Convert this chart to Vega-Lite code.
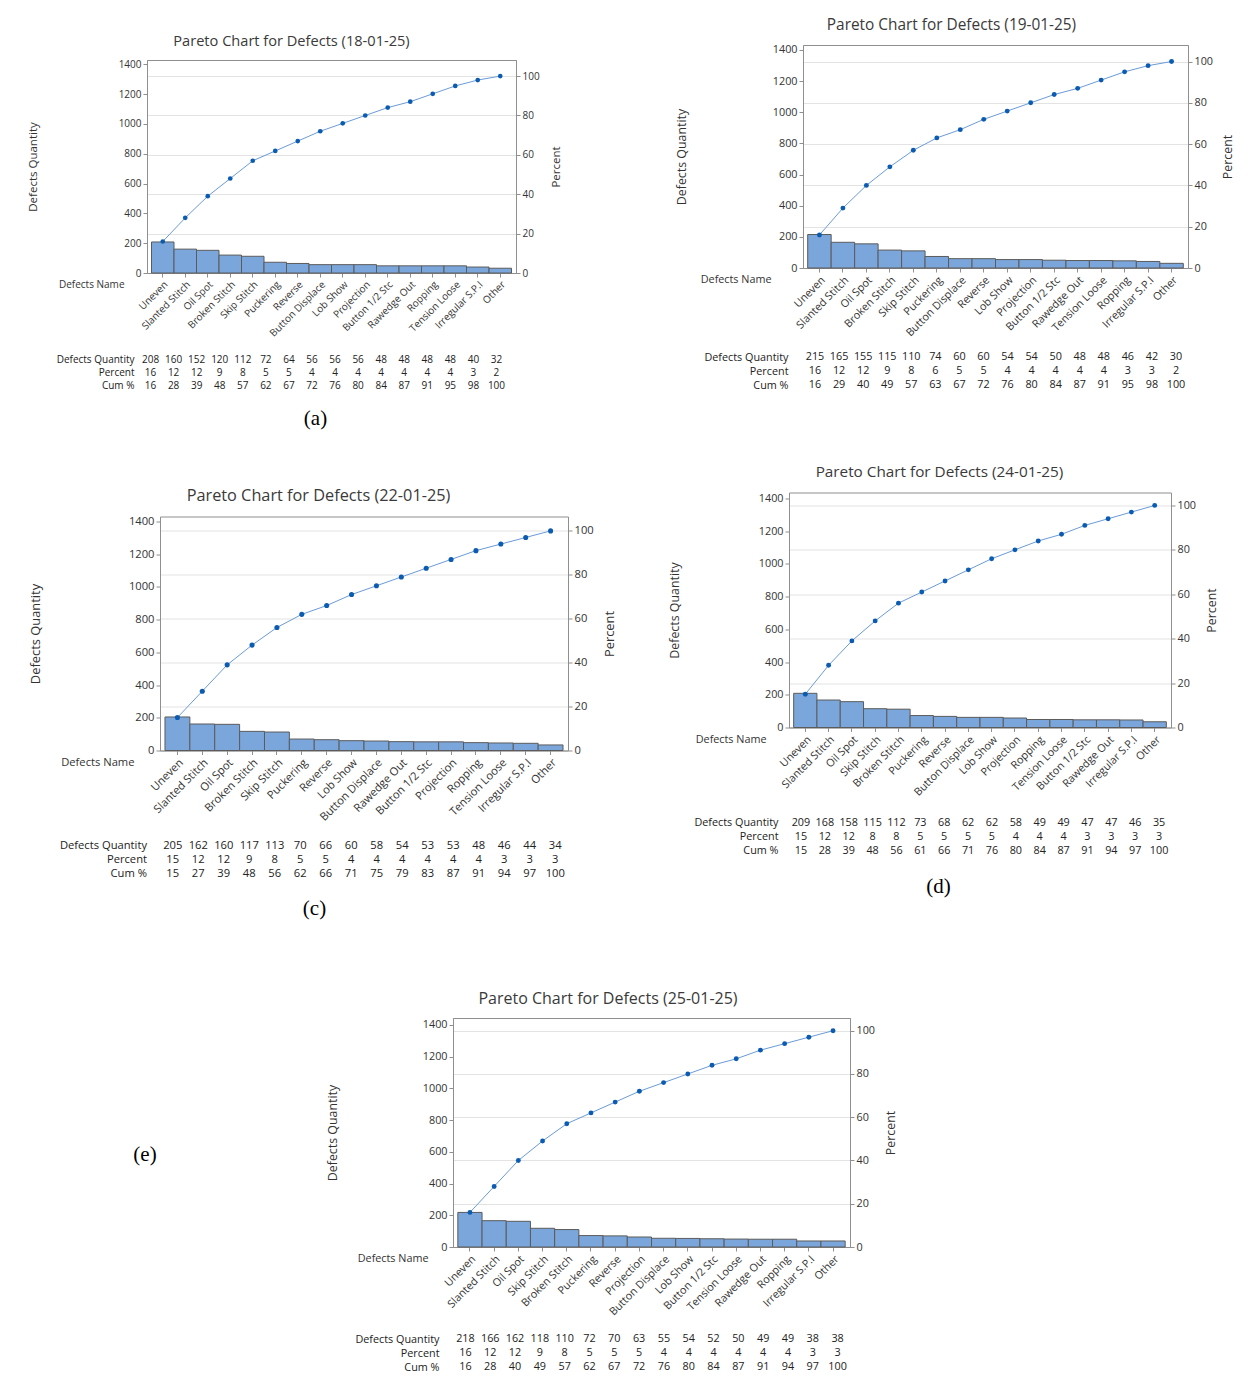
{
"$schema": "https://vega.github.io/schema/vega-lite/v6.json",
"padding": {"left": 0, "top": 0, "right": 5, "bottom": 5},
"background": "white",
"datasets": {
"a": [
{"Defect": "Uneven", "Defects Quantity": 208, "Percent": 16, "Cum %": 16},
{"Defect": "Slanted Stitch", "Defects Quantity": 160, "Percent": 12, "Cum %": 28},
{"Defect": "Oil Spot", "Defects Quantity": 152, "Percent": 12, "Cum %": 39},
{"Defect": "Broken Stitch", "Defects Quantity": 120, "Percent": 9, "Cum %": 48},
{"Defect": "Skip Stitch", "Defects Quantity": 112, "Percent": 8, "Cum %": 57},
{"Defect": "Puckering", "Defects Quantity": 72, "Percent": 5, "Cum %": 62},
{"Defect": "Reverse", "Defects Quantity": 64, "Percent": 5, "Cum %": 67},
{"Defect": "Button Displace", "Defects Quantity": 56, "Percent": 4, "Cum %": 72},
{"Defect": "Lob Show", "Defects Quantity": 56, "Percent": 4, "Cum %": 76},
{"Defect": "Projection", "Defects Quantity": 56, "Percent": 4, "Cum %": 80},
{"Defect": "Button 1/2 Stc", "Defects Quantity": 48, "Percent": 4, "Cum %": 84},
{"Defect": "Rawedge Out", "Defects Quantity": 48, "Percent": 4, "Cum %": 87},
{"Defect": "Ropping", "Defects Quantity": 48, "Percent": 4, "Cum %": 91},
{"Defect": "Tension Loose", "Defects Quantity": 48, "Percent": 4, "Cum %": 95},
{"Defect": "Irregular S.P.I", "Defects Quantity": 40, "Percent": 3, "Cum %": 98},
{"Defect": "Other", "Defects Quantity": 32, "Percent": 2, "Cum %": 100}
],
"b": [
{"Defect": "Uneven", "Defects Quantity": 215, "Percent": 16, "Cum %": 16},
{"Defect": "Slanted Stitch", "Defects Quantity": 165, "Percent": 12, "Cum %": 29},
{"Defect": "Oil Spot", "Defects Quantity": 155, "Percent": 12, "Cum %": 40},
{"Defect": "Broken Stitch", "Defects Quantity": 115, "Percent": 9, "Cum %": 49},
{"Defect": "Skip Stitch", "Defects Quantity": 110, "Percent": 8, "Cum %": 57},
{"Defect": "Puckering", "Defects Quantity": 74, "Percent": 6, "Cum %": 63},
{"Defect": "Button Displace", "Defects Quantity": 60, "Percent": 5, "Cum %": 67},
{"Defect": "Reverse", "Defects Quantity": 60, "Percent": 5, "Cum %": 72},
{"Defect": "Lob Show", "Defects Quantity": 54, "Percent": 4, "Cum %": 76},
{"Defect": "Projection", "Defects Quantity": 54, "Percent": 4, "Cum %": 80},
{"Defect": "Button 1/2 Stc", "Defects Quantity": 50, "Percent": 4, "Cum %": 84},
{"Defect": "Rawedge Out", "Defects Quantity": 48, "Percent": 4, "Cum %": 87},
{"Defect": "Tension Loose", "Defects Quantity": 48, "Percent": 4, "Cum %": 91},
{"Defect": "Ropping", "Defects Quantity": 46, "Percent": 3, "Cum %": 95},
{"Defect": "Irregular S.P.I", "Defects Quantity": 42, "Percent": 3, "Cum %": 98},
{"Defect": "Other", "Defects Quantity": 30, "Percent": 2, "Cum %": 100}
],
"c": [
{"Defect": "Uneven", "Defects Quantity": 205, "Percent": 15, "Cum %": 15},
{"Defect": "Slanted Stitch", "Defects Quantity": 162, "Percent": 12, "Cum %": 27},
{"Defect": "Oil Spot", "Defects Quantity": 160, "Percent": 12, "Cum %": 39},
{"Defect": "Broken Stitch", "Defects Quantity": 117, "Percent": 9, "Cum %": 48},
{"Defect": "Skip Stitch", "Defects Quantity": 113, "Percent": 8, "Cum %": 56},
{"Defect": "Puckering", "Defects Quantity": 70, "Percent": 5, "Cum %": 62},
{"Defect": "Reverse", "Defects Quantity": 66, "Percent": 5, "Cum %": 66},
{"Defect": "Lob Show", "Defects Quantity": 60, "Percent": 4, "Cum %": 71},
{"Defect": "Button Displace", "Defects Quantity": 58, "Percent": 4, "Cum %": 75},
{"Defect": "Rawedge Out", "Defects Quantity": 54, "Percent": 4, "Cum %": 79},
{"Defect": "Button 1/2 Stc", "Defects Quantity": 53, "Percent": 4, "Cum %": 83},
{"Defect": "Projection", "Defects Quantity": 53, "Percent": 4, "Cum %": 87},
{"Defect": "Ropping", "Defects Quantity": 48, "Percent": 4, "Cum %": 91},
{"Defect": "Tension Loose", "Defects Quantity": 46, "Percent": 3, "Cum %": 94},
{"Defect": "Irregular S.P.I", "Defects Quantity": 44, "Percent": 3, "Cum %": 97},
{"Defect": "Other", "Defects Quantity": 34, "Percent": 3, "Cum %": 100}
],
"d": [
{"Defect": "Uneven", "Defects Quantity": 209, "Percent": 15, "Cum %": 15},
{"Defect": "Slanted Stitch", "Defects Quantity": 168, "Percent": 12, "Cum %": 28},
{"Defect": "Oil Spot", "Defects Quantity": 158, "Percent": 12, "Cum %": 39},
{"Defect": "Skip Stitch", "Defects Quantity": 115, "Percent": 8, "Cum %": 48},
{"Defect": "Broken Stitch", "Defects Quantity": 112, "Percent": 8, "Cum %": 56},
{"Defect": "Puckering", "Defects Quantity": 73, "Percent": 5, "Cum %": 61},
{"Defect": "Reverse", "Defects Quantity": 68, "Percent": 5, "Cum %": 66},
{"Defect": "Button Displace", "Defects Quantity": 62, "Percent": 5, "Cum %": 71},
{"Defect": "Lob Show", "Defects Quantity": 62, "Percent": 5, "Cum %": 76},
{"Defect": "Projection", "Defects Quantity": 58, "Percent": 4, "Cum %": 80},
{"Defect": "Ropping", "Defects Quantity": 49, "Percent": 4, "Cum %": 84},
{"Defect": "Tension Loose", "Defects Quantity": 49, "Percent": 4, "Cum %": 87},
{"Defect": "Button 1/2 Stc", "Defects Quantity": 47, "Percent": 3, "Cum %": 91},
{"Defect": "Rawedge Out", "Defects Quantity": 47, "Percent": 3, "Cum %": 94},
{"Defect": "Irregular S.P.I", "Defects Quantity": 46, "Percent": 3, "Cum %": 97},
{"Defect": "Other", "Defects Quantity": 35, "Percent": 3, "Cum %": 100}
],
"e": [
{"Defect": "Uneven", "Defects Quantity": 218, "Percent": 16, "Cum %": 16},
{"Defect": "Slanted Stitch", "Defects Quantity": 166, "Percent": 12, "Cum %": 28},
{"Defect": "Oil Spot", "Defects Quantity": 162, "Percent": 12, "Cum %": 40},
{"Defect": "Skip Stitch", "Defects Quantity": 118, "Percent": 9, "Cum %": 49},
{"Defect": "Broken Stitch", "Defects Quantity": 110, "Percent": 8, "Cum %": 57},
{"Defect": "Puckering", "Defects Quantity": 72, "Percent": 5, "Cum %": 62},
{"Defect": "Reverse", "Defects Quantity": 70, "Percent": 5, "Cum %": 67},
{"Defect": "Projection", "Defects Quantity": 63, "Percent": 5, "Cum %": 72},
{"Defect": "Button Displace", "Defects Quantity": 55, "Percent": 4, "Cum %": 76},
{"Defect": "Lob Show", "Defects Quantity": 54, "Percent": 4, "Cum %": 80},
{"Defect": "Button 1/2 Stc", "Defects Quantity": 52, "Percent": 4, "Cum %": 84},
{"Defect": "Tension Loose", "Defects Quantity": 50, "Percent": 4, "Cum %": 87},
{"Defect": "Rawedge Out", "Defects Quantity": 49, "Percent": 4, "Cum %": 91},
{"Defect": "Ropping", "Defects Quantity": 49, "Percent": 4, "Cum %": 94},
{"Defect": "Irregular S.P.I", "Defects Quantity": 38, "Percent": 3, "Cum %": 97},
{"Defect": "Other", "Defects Quantity": 38, "Percent": 3, "Cum %": 100}
]
},
"spacing": 26.5,
"align": "none",
"vconcat": [
{"align": "none", "spacing": 0, "hconcat": [
{"width": 25.25, "height": 20, "data": {"values": [{}]}, "mark": {"type": "text", "text": ""}, "view": {"stroke": null}},
{"spacing": 0, "vconcat": [
{"width": 369, "height": 58, "data": {"values": [{"t": "Pareto Chart for Defects (18-01-25)"}]}, "mark": {"type": "text", "fontSize": 14.6, "color": "#3a3a3a", "dx": -40, "dy": 13}, "encoding": {"text": {"field": "t", "type": "nominal"}}, "view": {"stroke": null}},
{"spacing": 14, "vconcat": [
{"width": 369, "height": 213, "data": {"name": "a"},
 "layer": [
  {"mark": {"type": "bar", "fill": "#7ba6db", "stroke": "#5b5b5b", "strokeWidth": 1},
   "encoding": {
    "x": {"field": "Defect", "type": "nominal", "sort": null, "scale": {"paddingInner": 0, "paddingOuter": 0.2},
     "axis": {"title": "Defects Name", "labelAngle": -45, "labelAlign": "right", "labelBaseline": "top", "labelPadding": 2, "labelFontSize": 10, "titleFontSize": 10, "titleAngle": 0, "titleAlign": "right", "titleBaseline": "middle", "titleX": -23, "titleY": 11}},
    "y": {"field": "Defects Quantity", "type": "quantitative", "scale": {"domain": [0, 1428], "nice": false},
     "axis": {"orient": "left", "title": "Defects Quantity", "grid": false, "format": "d", "values": [0,200,400,600,800,1000,1200,1400], "labelFontSize": 10, "titleFontSize": 11.5, "titleX": -114, "titleY": 106.5, "titleBaseline": "middle", "titleAngle": -90}}}},
  {"mark": {"type": "line", "color": "#6b9bd8", "strokeWidth": 1, "point": {"filled": true, "color": "#0b5cb0", "size": 22}},
   "encoding": {
    "x": {"field": "Defect", "type": "nominal", "sort": null, "scale": {"paddingInner": 0, "paddingOuter": 0.2}},
    "y": {"field": "Cum %", "type": "quantitative", "scale": {"domain": [0, 108.18], "nice": false},
     "axis": {"orient": "right", "title": "Percent", "grid": true, "format": "d", "values": [0,20,40,60,80,100], "labelFontSize": 10, "titleFontSize": 11.5, "titleX": 40, "titleY": 106.5, "titleBaseline": "middle", "titleAngle": -90}}}}
 ],
 "resolve": {"scale": {"y": "independent"}}},
{"width": 369, "height": 39, "data": {"name": "a"},
 "transform": [{"fold": ["Defects Quantity", "Percent", "Cum %"], "as": ["Row", "Value"]}],
 "mark": {"type": "text", "fontSize": 10, "color": "#222222", "dx": -8},
 "encoding": {
  "x": {"field": "Defect", "type": "nominal", "sort": null, "scale": {"paddingInner": 0, "paddingOuter": 0.2},
   "axis": {"title": "(a)", "labels": false, "ticks": false, "domain": false, "titleFont": "Liberation Serif", "titleFontSize": 21, "titleColor": "#000000", "titleX": 168, "titleY": 26.5, "titleBaseline": "middle", "titleAlign": "center", "titleAngle": 0}},
  "y": {"field": "Row", "type": "nominal", "sort": ["Defects Quantity", "Percent", "Cum %"], "axis": {"title": null, "ticks": false, "domain": false, "labelPadding": 13, "labelFontSize": 10, "labelColor": "#222222"}},
  "text": {"field": "Value", "type": "quantitative"}},
 "view": {"stroke": null}}
]}
]},
{"width": 111.5, "height": 20, "data": {"values": [{}]}, "mark": {"type": "text", "text": ""}, "view": {"stroke": null}},
{"spacing": 0, "vconcat": [
{"width": 385, "height": 42.7, "data": {"values": [{"t": "Pareto Chart for Defects (19-01-25)"}]}, "mark": {"type": "text", "fontSize": 15.4, "color": "#3a3a3a", "dx": -44, "dy": 3.65}, "encoding": {"text": {"field": "t", "type": "nominal"}}, "view": {"stroke": null}},
{"spacing": 11, "vconcat": [
{"width": 385, "height": 223, "data": {"name": "b"},
 "layer": [
  {"mark": {"type": "bar", "fill": "#7ba6db", "stroke": "#5b5b5b", "strokeWidth": 1},
   "encoding": {
    "x": {"field": "Defect", "type": "nominal", "sort": null, "scale": {"paddingInner": 0, "paddingOuter": 0.2},
     "axis": {"title": "Defects Name", "labelAngle": -45, "labelAlign": "right", "labelBaseline": "top", "labelPadding": 2, "labelFontSize": 10.8, "titleFontSize": 10.8, "titleAngle": 0, "titleAlign": "right", "titleBaseline": "middle", "titleX": -32, "titleY": 11}},
    "y": {"field": "Defects Quantity", "type": "quantitative", "scale": {"domain": [0, 1432], "nice": false},
     "axis": {"orient": "left", "title": "Defects Quantity", "grid": false, "format": "d", "values": [0,200,400,600,800,1000,1200,1400], "labelFontSize": 10.8, "titleFontSize": 12.4, "titleX": -122, "titleY": 111.5, "titleBaseline": "middle", "titleAngle": -90}}}},
  {"mark": {"type": "line", "color": "#6b9bd8", "strokeWidth": 1, "point": {"filled": true, "color": "#0b5cb0", "size": 24}},
   "encoding": {
    "x": {"field": "Defect", "type": "nominal", "sort": null, "scale": {"paddingInner": 0, "paddingOuter": 0.2}},
    "y": {"field": "Cum %", "type": "quantitative", "scale": {"domain": [0, 108.0], "nice": false},
     "axis": {"orient": "right", "title": "Percent", "grid": true, "format": "d", "values": [0,20,40,60,80,100], "labelFontSize": 10.8, "titleFontSize": 12.4, "titleX": 39, "titleY": 111.5, "titleBaseline": "middle", "titleAngle": -90}}}}
 ],
 "resolve": {"scale": {"y": "independent"}}},
{"width": 385, "height": 42, "data": {"name": "b"},
 "transform": [{"fold": ["Defects Quantity", "Percent", "Cum %"], "as": ["Row", "Value"]}],
 "mark": {"type": "text", "fontSize": 10.8, "color": "#222222"},
 "encoding": {
  "x": {"field": "Defect", "type": "nominal", "sort": null, "scale": {"paddingInner": 0, "paddingOuter": 0.2}, "axis": null},
  "y": {"field": "Row", "type": "nominal", "sort": ["Defects Quantity", "Percent", "Cum %"], "axis": {"title": null, "ticks": false, "domain": false, "labelPadding": 15, "labelFontSize": 10.8, "labelColor": "#222222"}},
  "text": {"field": "Value", "type": "quantitative"}},
 "view": {"stroke": null}}
]}
]}
]},
{"align": "none", "spacing": 0, "hconcat": [
{"width": 27.55, "height": 20, "data": {"values": [{}]}, "mark": {"type": "text", "text": ""}, "view": {"stroke": null}},
{"spacing": 0, "vconcat": [
{"width": 408, "height": 58.2, "data": {"values": [{"t": "Pareto Chart for Defects (22-01-25)"}]}, "mark": {"type": "text", "fontSize": 16.3, "color": "#3a3a3a", "dx": -45.5, "dy": 11.4}, "encoding": {"text": {"field": "t", "type": "nominal"}}, "view": {"stroke": null}},
{"spacing": 15, "vconcat": [
{"width": 408, "height": 234, "data": {"name": "c"},
 "layer": [
  {"mark": {"type": "bar", "fill": "#7ba6db", "stroke": "#5b5b5b", "strokeWidth": 1},
   "encoding": {
    "x": {"field": "Defect", "type": "nominal", "sort": null, "scale": {"paddingInner": 0, "paddingOuter": 0.2},
     "axis": {"title": "Defects Name", "labelAngle": -45, "labelAlign": "right", "labelBaseline": "top", "labelPadding": 2, "labelFontSize": 11.2, "titleFontSize": 11.2, "titleAngle": 0, "titleAlign": "right", "titleBaseline": "middle", "titleX": -26, "titleY": 12}},
    "y": {"field": "Defects Quantity", "type": "quantitative", "scale": {"domain": [0, 1431], "nice": false},
     "axis": {"orient": "left", "title": "Defects Quantity", "grid": false, "format": "d", "values": [0,200,400,600,800,1000,1200,1400], "labelFontSize": 11.2, "titleFontSize": 12.9, "titleX": -125, "titleY": 117, "titleBaseline": "middle", "titleAngle": -90}}}},
  {"mark": {"type": "line", "color": "#6b9bd8", "strokeWidth": 1, "point": {"filled": true, "color": "#0b5cb0", "size": 26}},
   "encoding": {
    "x": {"field": "Defect", "type": "nominal", "sort": null, "scale": {"paddingInner": 0, "paddingOuter": 0.2}},
    "y": {"field": "Cum %", "type": "quantitative", "scale": {"domain": [0, 106.55], "nice": false},
     "axis": {"orient": "right", "title": "Percent", "grid": true, "format": "d", "values": [0,20,40,60,80,100], "labelFontSize": 11.2, "titleFontSize": 12.9, "titleX": 41, "titleY": 117, "titleBaseline": "middle", "titleAngle": -90}}}}
 ],
 "resolve": {"scale": {"y": "independent"}}},
{"width": 408, "height": 42, "data": {"name": "c"},
 "transform": [{"fold": ["Defects Quantity", "Percent", "Cum %"], "as": ["Row", "Value"]}],
 "mark": {"type": "text", "fontSize": 11.2, "color": "#222222"},
 "encoding": {
  "x": {"field": "Defect", "type": "nominal", "sort": null, "scale": {"paddingInner": 0, "paddingOuter": 0.2},
   "axis": {"title": "(c)", "labels": false, "ticks": false, "domain": false, "titleFont": "Liberation Serif", "titleFontSize": 21, "titleColor": "#000000", "titleX": 154, "titleY": 28, "titleBaseline": "middle", "titleAlign": "center", "titleAngle": 0}},
  "y": {"field": "Row", "type": "nominal", "sort": ["Defects Quantity", "Percent", "Cum %"], "axis": {"title": null, "ticks": false, "domain": false, "labelPadding": 13.5, "labelFontSize": 11.2, "labelColor": "#222222"}},
  "text": {"field": "Value", "type": "quantitative"}},
 "view": {"stroke": null}}
]}
]},
{"width": 49.35, "height": 20, "data": {"values": [{}]}, "mark": {"type": "text", "text": ""}, "view": {"stroke": null}},
{"spacing": 0, "vconcat": [
{"width": 382, "height": 35.2, "data": {"values": [{"t": "Pareto Chart for Defects (24-01-25)"}]}, "mark": {"type": "text", "fontSize": 15.3, "color": "#3a3a3a", "dx": -40.5, "dy": -1.1}, "encoding": {"text": {"field": "t", "type": "nominal"}}, "view": {"stroke": null}},
{"spacing": 17, "vconcat": [
{"width": 382, "height": 235, "data": {"name": "d"},
 "layer": [
  {"mark": {"type": "bar", "fill": "#7ba6db", "stroke": "#5b5b5b", "strokeWidth": 1},
   "encoding": {
    "x": {"field": "Defect", "type": "nominal", "sort": null, "scale": {"paddingInner": 0, "paddingOuter": 0.2},
     "axis": {"title": "Defects Name", "labelAngle": -45, "labelAlign": "right", "labelBaseline": "top", "labelPadding": 2, "labelFontSize": 10.8, "titleFontSize": 10.8, "titleAngle": 0, "titleAlign": "right", "titleBaseline": "middle", "titleX": -23, "titleY": 12}},
    "y": {"field": "Defects Quantity", "type": "quantitative", "scale": {"domain": [0, 1437], "nice": false},
     "axis": {"orient": "left", "title": "Defects Quantity", "grid": false, "format": "d", "values": [0,200,400,600,800,1000,1200,1400], "labelFontSize": 10.8, "titleFontSize": 12.4, "titleX": -115, "titleY": 117.5, "titleBaseline": "middle", "titleAngle": -90}}}},
  {"mark": {"type": "line", "color": "#6b9bd8", "strokeWidth": 1, "point": {"filled": true, "color": "#0b5cb0", "size": 24}},
   "encoding": {
    "x": {"field": "Defect", "type": "nominal", "sort": null, "scale": {"paddingInner": 0, "paddingOuter": 0.2}},
    "y": {"field": "Cum %", "type": "quantitative", "scale": {"domain": [0, 105.82], "nice": false},
     "axis": {"orient": "right", "title": "Percent", "grid": true, "format": "d", "values": [0,20,40,60,80,100], "labelFontSize": 10.8, "titleFontSize": 12.4, "titleX": 40, "titleY": 117.5, "titleBaseline": "middle", "titleAngle": -90}}}}
 ],
 "resolve": {"scale": {"y": "independent"}}},
{"width": 382, "height": 42, "data": {"name": "d"},
 "transform": [{"fold": ["Defects Quantity", "Percent", "Cum %"], "as": ["Row", "Value"]}],
 "mark": {"type": "text", "fontSize": 10.8, "color": "#222222"},
 "encoding": {
  "x": {"field": "Defect", "type": "nominal", "sort": null, "scale": {"paddingInner": 0, "paddingOuter": 0.2},
   "axis": {"title": "(d)", "labels": false, "ticks": false, "domain": false, "titleFont": "Liberation Serif", "titleFontSize": 21, "titleColor": "#000000", "titleX": 149, "titleY": 29, "titleBaseline": "middle", "titleAlign": "center", "titleAngle": 0}},
  "y": {"field": "Row", "type": "nominal", "sort": ["Defects Quantity", "Percent", "Cum %"], "axis": {"title": null, "ticks": false, "domain": false, "labelPadding": 11, "labelFontSize": 10.8, "labelColor": "#222222"}},
  "text": {"field": "Value", "type": "quantitative"}},
 "view": {"stroke": null}}
]}
]}
]},
{"align": "none", "spacing": 0, "hconcat": [
{"width": 324.8, "height": 419, "data": {"values": [{"label": "(e)"}]},
 "mark": {"type": "text", "font": "Liberation Serif", "fontSize": 21, "color": "#000000", "dx": -17.4},
 "encoding": {"text": {"field": "label", "type": "nominal"}},
 "view": {"stroke": null}},
{"spacing": 0, "vconcat": [
{"width": 397, "height": 71.2, "data": {"values": [{"t": "Pareto Chart for Defects (25-01-25)"}]}, "mark": {"type": "text", "fontSize": 16, "color": "#3a3a3a", "dx": -43.5, "dy": 17.9}, "encoding": {"text": {"field": "t", "type": "nominal"}}, "view": {"stroke": null}},
{"spacing": 14, "vconcat": [
{"width": 397, "height": 229, "data": {"name": "e"},
 "layer": [
  {"mark": {"type": "bar", "fill": "#7ba6db", "stroke": "#5b5b5b", "strokeWidth": 1},
   "encoding": {
    "x": {"field": "Defect", "type": "nominal", "sort": null, "scale": {"paddingInner": 0, "paddingOuter": 0.2},
     "axis": {"title": "Defects Name", "labelAngle": -45, "labelAlign": "right", "labelBaseline": "top", "labelPadding": 2, "labelFontSize": 10.8, "titleFontSize": 10.8, "titleAngle": 0, "titleAlign": "right", "titleBaseline": "middle", "titleX": -25, "titleY": 11}},
    "y": {"field": "Defects Quantity", "type": "quantitative", "scale": {"domain": [0, 1444], "nice": false},
     "axis": {"orient": "left", "title": "Defects Quantity", "grid": false, "format": "d", "values": [0,200,400,600,800,1000,1200,1400], "labelFontSize": 10.8, "titleFontSize": 12.4, "titleX": -121, "titleY": 114.5, "titleBaseline": "middle", "titleAngle": -90}}}},
  {"mark": {"type": "line", "color": "#6b9bd8", "strokeWidth": 1, "point": {"filled": true, "color": "#0b5cb0", "size": 24}},
   "encoding": {
    "x": {"field": "Defect", "type": "nominal", "sort": null, "scale": {"paddingInner": 0, "paddingOuter": 0.2}},
    "y": {"field": "Cum %", "type": "quantitative", "scale": {"domain": [0, 105.87], "nice": false},
     "axis": {"orient": "right", "title": "Percent", "grid": true, "format": "d", "values": [0,20,40,60,80,100], "labelFontSize": 10.8, "titleFontSize": 12.4, "titleX": 40, "titleY": 114.5, "titleBaseline": "middle", "titleAngle": -90}}}}
 ],
 "resolve": {"scale": {"y": "independent"}}},
{"width": 397, "height": 42, "data": {"name": "e"},
 "transform": [{"fold": ["Defects Quantity", "Percent", "Cum %"], "as": ["Row", "Value"]}],
 "mark": {"type": "text", "fontSize": 10.8, "color": "#222222"},
 "encoding": {
  "x": {"field": "Defect", "type": "nominal", "sort": null, "scale": {"paddingInner": 0, "paddingOuter": 0.2}, "axis": null},
  "y": {"field": "Row", "type": "nominal", "sort": ["Defects Quantity", "Percent", "Cum %"], "axis": {"title": null, "ticks": false, "domain": false, "labelPadding": 14, "labelFontSize": 10.8, "labelColor": "#222222"}},
  "text": {"field": "Value", "type": "quantitative"}},
 "view": {"stroke": null}}
]}
]}
]}
],
"config": {
 "font": "Open Sans",
 "view": {"stroke": "#8f8f8f", "strokeWidth": 1},
 "axis": {"labelColor": "#333333", "titleColor": "#333333", "domainColor": "#8f8f8f", "tickColor": "#8f8f8f", "tickSize": 4, "gridColor": "#e3e3e3", "titleFontWeight": "normal", "labelFont": "Open Sans", "titleFont": "Open Sans"},
 "title": {"color": "#3a3a3a", "fontWeight": "normal", "font": "Open Sans"}
}
}
